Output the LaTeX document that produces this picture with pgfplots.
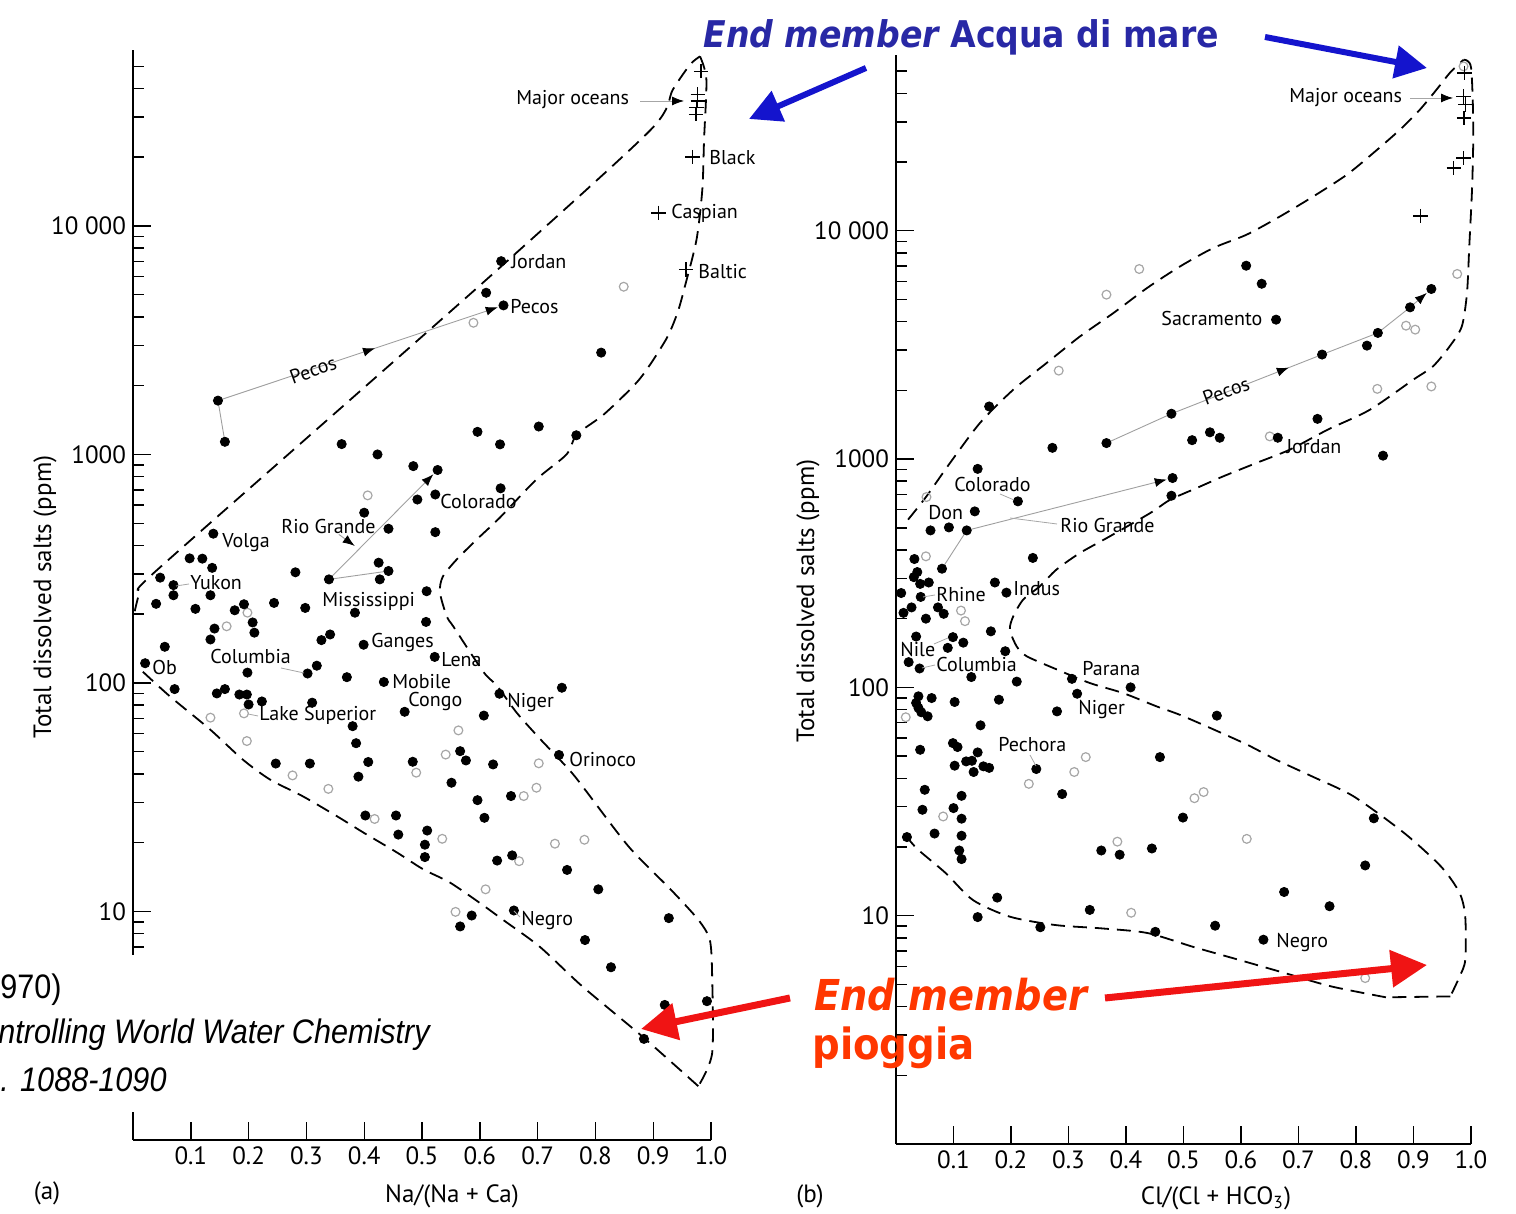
\documentclass[border=0pt]{standalone}
\usepackage{fontspec}
\setmainfont{PT Sans}
\newfontfamily\ovl[FakeStretch=0.9]{DejaVu Sans}
\newfontfamily\narrowf[FakeStretch=0.9]{Liberation Sans}
\usepackage{pgfplots}
\pgfplotsset{compat=1.18}
\usetikzlibrary{arrows.meta,decorations.markings}

\definecolor{blueT}{RGB}{40,40,165}
\definecolor{blueA}{RGB}{20,20,205}
\definecolor{redT}{RGB}{255,55,0}
\definecolor{redA}{RGB}{240,20,20}
\newcommand\lab{\fontsize{10}{12}\selectfont}

\tikzset{
fdot/.style={mark=*, mark size=2.3pt, black},
odot/.style={mark=o, mark size=2.2pt, gray!70, mark options={line width=0.6pt}},
crs/.style={mark=+, mark size=3.6pt, black, mark options={line width=0.7pt}},
env/.style={black, line width=0.9pt, dash pattern=on 7pt off 4pt, smooth, tension=0.45},
flow/.style={gray!75, line width=0.45pt},
midarr/.style={decoration={markings, mark=at position #1 with {\arrow[black]{Latex[length=6pt,width=4.5pt]}}}, postaction={decorate}},
endarr/.style={-{Latex[length=6pt,width=4.5pt,color=black]}, shorten >=3pt},
}

\begin{document}
\begin{tikzpicture}
\useasboundingbox (0,0) rectangle (758pt,607pt);

% ---------------- (a) ----------------
\begin{axis}[at={(66.5pt,37pt)}, anchor=south west, width=289pt, height=545.1pt,
  scale only axis, ymode=log, xmin=0, xmax=1, ymin=1, ymax=59000,
  axis x line*=bottom, axis y line*=left, clip=false,
  axis line style={line width=1pt},
  tick align=inside, major tick length=9pt, minor tick length=5.5pt,
  tick style={black, line width=0.7pt},
  xtick={0.1,0.2,0.3,0.4,0.5,0.6,0.7,0.8,0.9,1.0},
  xticklabels={0.1,0.2,0.3,0.4,0.5,0.6,0.7,0.8,0.9,1.0},
  ytick={10,100,1000,10000}, yticklabels={10,100,1000,10 000},
  minor ytick={2,3,4,5,6,7,8,9,20,30,40,50,60,70,80,90,200,300,400,500,600,700,800,900,2000,3000,4000,5000,6000,7000,8000,9000,20000,30000,40000,50000},
  tick label style={font=\fontsize{12.5}{14}\selectfont}]
\addplot[env] coordinates {(0.003,206) (0.012,251) (0.029,292) (0.303,1194) (0.637,6650) (0.896,26400) (0.934,39500) (0.964,50900) (0.981,55200)};
\addplot[env] coordinates {(0.981,55200) (0.992,43750) (0.988,23900) (0.985,14450) (0.975,8730) (0.955,5460) (0.942,4170) (0.922,3180) (0.876,2130) (0.815,1500) (0.768,1224) (0.750,1000) (0.698,778) (0.635,530) (0.595,425) (0.560,347) (0.536,292) (0.531,249) (0.543,195) (0.554,177) (0.606,112) (0.630,97) (0.664,74) (0.704,57) (0.739,46) (0.768,38) (0.857,19.3) (0.930,12.5) (0.978,9.2) (0.998,7.5) (1.002,5.2) (1.002,2.4) (0.978,1.72)};
\addplot[env] coordinates {(0.978,1.72) (0.881,2.84) (0.777,4.71) (0.704,7.0) (0.640,9.2) (0.600,10.9) (0.548,13.4) (0.502,15.3) (0.457,18.1) (0.398,22.2) (0.353,26.1) (0.294,31.9) (0.237,37.8) (0.190,46.2) (0.133,62.7) (0.064,87.3) (0.017,112)};
% flow lines
\draw[flow] (axis cs:0.159,1136) -- (axis cs:0.147,1720);
\draw[flow, midarr=0.55, endarr] (axis cs:0.147,1720) -- (axis cs:0.641,4490);
\draw[flow] (axis cs:0.442,309) -- (axis cs:0.339,284);
\draw[flow, endarr] (axis cs:0.339,284) -- (axis cs:0.527,855);
\draw[flow, endarr] (axis cs:0.356,447) -- (axis cs:0.392,384);
\addplot[only marks, odot] coordinates {(0.589,3770) (0.849,5420) (0.406,662) (0.198,203) (0.162,177) (0.192,73.6) (0.134,70.5) (0.197,55.7) (0.563,62) (0.541,48.6) (0.702,44.5) (0.490,40.5) (0.276,39.4) (0.338,34.4) (0.418,25.4) (0.676,32) (0.698,34.8) (0.535,20.8) (0.730,19.8) (0.781,20.6) (0.668,16.6) (0.610,12.5) (0.558,9.96)};
\addplot[only marks, fdot] coordinates {(0.637,7010) (0.611,5100) (0.641,4490) (0.810,2790) (0.147,1720) (0.159,1136) (0.361,1110) (0.423,1000) (0.596,1256) (0.635,1107) (0.702,1325) (0.767,1213)
(0.485,889) (0.527,855) (0.636,711) (0.492,635) (0.523,668) (0.400,556) (0.442,473) (0.523,457) (0.139,450) (0.098,351) (0.120,350) (0.137,319) (0.281,305) (0.339,284) (0.425,336) (0.442,309) (0.427,284) (0.047,289) (0.070,268) (0.070,242) (0.134,242) (0.040,222) (0.108,211) (0.176,208) (0.192,221) (0.244,224) (0.298,213) (0.508,252) (0.384,203) (0.207,184) (0.210,166) (0.141,173) (0.134,155) (0.507,185) (0.326,154) (0.341,163) (0.399,147) (0.055,144) (0.522,130) (0.021,122) (0.318,119) (0.302,110) (0.198,111) (0.370,106) (0.434,101) (0.072,94) (0.145,90) (0.159,94) (0.184,89) (0.197,89) (0.200,80.5) (0.223,83) (0.310,82) (0.470,74.8) (0.607,72) (0.634,89.7) (0.742,95.3) (0.380,64.7) (0.386,54.5) (0.566,50.3) (0.576,45.8) (0.737,48.4) (0.247,44.4) (0.306,44.4) (0.407,45.1) (0.484,45.2) (0.623,44) (0.390,38.9)
(0.551,36.6) (0.596,30.7) (0.608,25.7) (0.654,32) (0.402,26.3) (0.455,26.3) (0.459,21.7) (0.509,22.6) (0.505,19.6) (0.505,17.3) (0.630,16.7) (0.656,17.6) (0.751,15.2) (0.805,12.5) (0.586,9.6) (0.566,8.6) (0.659,10.1) (0.927,9.35) (0.782,7.5) (0.827,5.7) (0.920,3.9) (0.993,4.05) (0.884,2.77)};
\addplot[only marks, crs] coordinates {(0.983,47500) (0.977,37600) (0.977,35200) (0.975,32900) (0.974,30800) (0.968,20000) (0.909,11400) (0.957,6460)};
\end{axis}

% ---------------- (b) ----------------
\begin{axis}[at={(448pt,35pt)}, anchor=south west, width=287.5pt, height=544.6pt,
  scale only axis, ymode=log, xmin=0, xmax=1, ymin=1, ymax=59000,
  axis x line*=bottom, axis y line*=left, clip=false,
  axis line style={line width=1pt},
  tick align=inside, major tick length=9pt, minor tick length=5.5pt,
  tick style={black, line width=0.7pt},
  xtick={0.1,0.2,0.3,0.4,0.5,0.6,0.7,0.8,0.9,1.0},
  xticklabels={0.1,0.2,0.3,0.4,0.5,0.6,0.7,0.8,0.9,1.0},
  ytick={10,100,1000,10000}, yticklabels={10,100,1000,10 000},
  minor ytick={2,3,4,5,6,7,8,9,20,30,40,50,60,70,80,90,200,300,400,500,600,700,800,900,2000,3000,4000,5000,6000,7000,8000,9000,20000,30000,40000,50000},
  tick label style={font=\fontsize{12.5}{14}\selectfont}]
\addplot[env] coordinates {(0.021,543) (0.053,687) (0.094,962) (0.146,1439) (0.204,2014) (0.262,2636) (0.320,3446) (0.378,4360) (0.436,5600) (0.494,6980) (0.552,8410) (0.610,9620) (0.668,11560) (0.726,14150) (0.784,17600) (0.830,21900) (0.877,27800) (0.911,33900) (0.940,41500) (0.963,49100) (0.981,54300) (0.987,56100)};
\addplot[env] coordinates {(0.987,56100) (1.0,52000) (1.004,28600) (1.002,15700) (0.997,8550) (0.993,5330) (0.984,3810) (0.963,3120) (0.934,2550) (0.900,2230) (0.824,1644) (0.751,1346) (0.685,1100) (0.627,962) (0.569,840) (0.523,747) (0.477,664) (0.442,580) (0.372,459) (0.320,388) (0.279,328) (0.250,277) (0.221,242) (0.204,205) (0.198,179) (0.210,151) (0.227,137) (0.279,120) (0.337,104.5) (0.395,94.4) (0.453,82.6) (0.500,74.7) (0.605,57) (0.661,48.2) (0.724,40.7) (0.796,33.3) (0.884,23) (0.948,16.4) (0.980,12.6) (0.990,9.9) (0.990,6.4) (0.980,5.4) (0.964,4.43)};
\addplot[black, line width=0.9pt, dash pattern=on 7pt off 4pt] coordinates {(0.964,4.43) (0.852,4.39)};
\addplot[env] coordinates {(0.852,4.39) (0.757,4.9) (0.677,5.6) (0.597,6.4) (0.517,7.3) (0.437,8.4) (0.357,8.8) (0.277,9.1) (0.198,9.9) (0.134,11.7) (0.086,15.4) (0.038,19.5) (0.019,22.1)};
% flow lines
\draw[flow] (axis cs:0.366,1175) -- (axis cs:0.479,1580);
\draw[flow, midarr=0.78] (axis cs:0.479,1580) -- (axis cs:0.741,2870);
\draw[flow] (axis cs:0.741,2870) -- (axis cs:0.838,3570) -- (axis cs:0.894,4620);
\draw[flow, endarr] (axis cs:0.894,4620) -- (axis cs:0.931,5560);
\draw[flow] (axis cs:0.080,331) -- (axis cs:0.123,487);
\draw[flow, endarr] (axis cs:0.123,487) -- (axis cs:0.481,826);
\addplot[only marks, odot] coordinates {(0.987,52500) (0.423,6800) (0.366,5250) (0.976,6470) (0.887,3840) (0.903,3690) (0.283,2440) (0.837,2030) (0.931,2080) (0.650,1257) (0.053,682) (0.052,375) (0.113,217) (0.120,195) (0.017,74) (0.330,49.5) (0.310,42.6) (0.231,37.8) (0.082,27.2) (0.535,34.8) (0.519,32.7) (0.385,21.1) (0.610,21.7) (0.409,10.3) (0.816,5.33)};
\addplot[only marks, fdot] coordinates {(0.609,7030) (0.636,5860) (0.661,4080) (0.931,5560) (0.894,4620) (0.838,3570) (0.819,3140) (0.741,2870) (0.162,1700) (0.479,1580) (0.733,1500) (0.546,1310) (0.563,1240) (0.515,1210) (0.366,1175) (0.272,1120) (0.664,1240) (0.847,1035)
(0.142,906) (0.212,653) (0.137,590) (0.481,826) (0.479,691) (0.060,487) (0.092,502) (0.123,487) (0.032,365) (0.080,331) (0.238,369) (0.037,320) (0.031,304) (0.042,284) (0.057,288) (0.009,259) (0.043,249) (0.172,288) (0.192,260) (0.027,224) (0.013,212) (0.073,224) (0.083,210) (0.052,200) (0.165,176) (0.035,167) (0.099,166) (0.117,157) (0.090,149) (0.190,144) (0.022,129) (0.041,121) (0.131,111) (0.210,106) (0.306,109) (0.408,100) (0.315,93.8) (0.039,91.4) (0.062,89.8) (0.035,85.5) (0.039,81.3) (0.044,77.8) (0.055,74.7) (0.102,86.3) (0.179,88.3) (0.280,78.5) (0.558,75.2) (0.147,68.2) (0.042,53.3) (0.099,57) (0.107,54.8) (0.142,51.9) (0.102,45.4) (0.122,47.4) (0.132,47.7) (0.135,42.6) (0.152,45.1) (0.162,44.4) (0.244,43.9) (0.459,49.5)
(0.289,34.1) (0.050,35.6) (0.046,29.1) (0.100,29.6) (0.114,33.5) (0.114,26.6) (0.114,22.4) (0.110,19.3) (0.114,17.7) (0.067,22.9) (0.019,22.1) (0.499,26.9) (0.831,26.7) (0.357,19.3) (0.389,18.5) (0.445,19.7) (0.816,16.6) (0.675,12.7) (0.754,11.0) (0.176,12.0) (0.142,9.86) (0.337,10.6) (0.251,8.9) (0.451,8.5) (0.555,9.04) (0.639,7.85)};
\addplot[only marks, crs] coordinates {(0.989,49100) (0.987,38800) (0.990,35700) (0.988,31200) (0.987,20800) (0.970,18800) (0.912,11600)};
\end{axis}

% ---------------- annotations (pixel coordinates) ----------------
\begin{scope}[x=0.5pt, y=-0.5pt, shift={(0pt,607pt)}, lb/.style={anchor=west, inner sep=0pt, font=\lab}, ld/.style={gray!70, line width=0.4pt}]
\node[rotate=90, font=\fontsize{12.5}{14}\selectfont] at (45,597) {Total dissolved salts (ppm)};
\node[rotate=90, font=\fontsize{12.5}{14}\selectfont] at (808,601) {Total dissolved salts (ppm)};
\node[font=\fontsize{12.5}{14}\selectfont] at (452,1196) {Na/(Na + Ca)};
\node[font=\fontsize{12.5}{14}\selectfont] at (1216,1198) {Cl/(Cl + HCO\textsubscript{3})};
\node[font=\fontsize{12.5}{14}\selectfont] at (47,1193) {(a)};
\node[font=\fontsize{12.5}{14}\selectfont] at (810,1196) {(b)};
% labels (a)
\node[lb] at (516,100) {Major oceans};
\draw[ld, -{Latex[length=6pt,width=4.5pt,color=black]}] (640,101) -- (684,101);
\node[lb] at (709,158) {Black};
\node[lb] at (671,213) {Caspian};
\node[lb] at (698,272) {Baltic};
\node[lb] at (511,262) {Jordan};
\node[lb] at (510,307) {Pecos};
\node[font=\lab, rotate=20, inner sep=0pt] at (313,370) {Pecos};
\node[lb] at (440,502) {Colorado};
\node[lb] at (281,527) {Rio Grande};
\node[lb] at (222,543) {Volga};
\node[lb] at (190,583) {Yukon};
\draw[ld] (176,586) -- (189,584);
\node[lb] at (322,601) {Mississippi};
\node[lb] at (371,643) {Ganges};
\node[lb] at (210,657) {Columbia};
\draw[ld] (281,668) -- (304,673);
\node[lb] at (152,668) {Ob};
\node[lb] at (441,660) {Lena};
\node[lb] at (392,682) {Mobile};
\node[lb] at (408,702) {Congo};
\node[lb] at (259,715) {Lake Superior};
\draw[ld] (248,714) -- (258,716);
\node[lb] at (507,703) {Niger};
\node[lb] at (569,760) {Orinoco};
\node[lb] at (521,921) {Negro};
\draw[ld] (514,911) -- (520,917);
% labels (b)
\node[lb] at (1289,98) {Major oceans};
\draw[ld, -{Latex[length=6pt,width=4.5pt,color=black]}] (1410,98) -- (1453,98);
\node[lb] at (1161,319) {Sacramento};
\node[font=\lab, rotate=20, inner sep=0pt] at (1226,391) {Pecos};
\node[lb] at (1286,447) {Jordan};
\node[lb] at (954,485) {Colorado};
\draw[ld] (1000,494) -- (1014,500);
\node[lb] at (928,513) {Don};
\node[lb] at (1060,526) {Rio Grande};
\draw[ld] (1010,518) -- (1057,524);
\node[lb] at (1013,589) {Indus};
\node[lb] at (936,595) {Rhine};
\draw[ld] (923,597) -- (935,595);
\node[lb] at (900,650) {Nile};
\draw[ld] (934,644) -- (948,638);
\node[lb] at (936,665) {Columbia};
\draw[ld] (922,668) -- (935,665);
\node[lb] at (1082,669) {Parana};
\node[lb] at (1078,710) {Niger};
\node[lb] at (998,745) {Pechora};
\draw[ld] (1030,755) -- (1036,766);
\node[lb] at (1276,943) {Negro};
% white box with reference
\fill[white] (0,955) rectangle (445,1112);
\node[anchor=west, inner sep=0pt, font=\narrowf\fontsize{17}{19}\selectfont] at (0,990) {970)};
\node[anchor=west, inner sep=0pt, font=\narrowf\itshape\fontsize{17}{19}\selectfont] at (-2,1035) {ntrolling World Water Chemistry};
\node[anchor=west, inner sep=0pt, font=\narrowf\itshape\fontsize{17}{19}\selectfont] at (0,1080) {. 1088-1090};
% overlay texts and arrows
\node[anchor=west, inner sep=0pt, text=blueT, font=\ovl\bfseries\fontsize{18.4}{20}\selectfont] at (703,37) {{\itshape End member} Acqua di mare};
\draw[blueA, line width=3pt, -{Triangle[length=16pt,width=16pt]}] (866,68) -- (749,119);
\draw[blueA, line width=3pt, -{Triangle[length=16pt,width=16pt]}] (1265,37) -- (1427,68);
\node[anchor=west, inner sep=0pt, text=redT, font=\ovl\bfseries\itshape\fontsize{21.3}{24}\selectfont] at (814,995) {End member};
\node[anchor=west, inner sep=0pt, text=redT, font=\ovl\bfseries\fontsize{21.5}{24}\selectfont] at (812,1048) {pioggia};
\draw[redA, line width=3.5pt, -{Triangle[length=18pt,width=18pt]}] (790,998) -- (641,1029);
\draw[redA, line width=3.5pt, -{Triangle[length=18pt,width=18pt]}] (1105,998) -- (1427,965);
\end{scope}
\end{tikzpicture}
\end{document}
